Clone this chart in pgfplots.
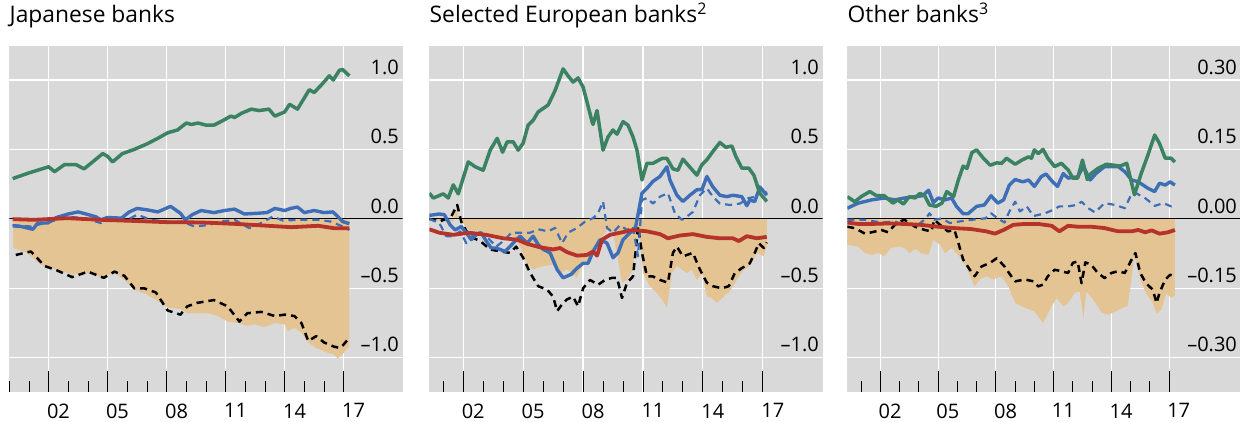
\documentclass[border=0pt]{standalone}
\usepackage{fontspec}
\setmainfont{Open Sans}
\usepackage{pgfplots}
\pgfplotsset{compat=1.18}

\definecolor{bggray}{HTML}{D9D9D9}
\definecolor{areatan}{HTML}{E5C494}
\definecolor{lgreen}{HTML}{3A8262}
\definecolor{lblue}{HTML}{3E6EB6}
\definecolor{lred}{HTML}{B5332B}

\newcommand\tickfont{\fontsize{10bp}{12bp}\selectfont}
\newcommand\titlefont{\fontsize{11.4bp}{13bp}\selectfont}

\pgfplotsset{
  panel/.style={
    scale only axis, width=196.7bp, height=172.85bp, anchor=south west,
    axis background/.style={fill=bggray},
    axis line style={draw=none},
    ymajorgrids, grid style={white, line width=0.6bp},
    yticklabel pos=right,
    yticklabel style={anchor=base east, inner sep=0pt, xshift=-1.7bp, yshift=2.85bp, font=\tickfont},
    xtick={2002.5,2005.5,2008.5,2011.5,2014.5,2017.5},
    xticklabels={02,05,08,11,14,17},
    xticklabel style={anchor=north, inner sep=0pt, yshift=-5.8bp, font=\tickfont},
    xtick pos=lower,
    tick align=inside,
    major tick length=0pt,
    minor xtick={2000,...,2017},
    minor tick length=5.5bp,
    xtick style={black, line width=0.45bp},
    extra x ticks={2002,2005,2008,2011,2014,2017},
    extra x tick labels={},
    extra x tick style={major tick length=10.35bp, grid=major},
    title style={anchor=base west, at={(0,1)}, yshift=5.9bp, inner sep=0pt, font=\titlefont},
    every axis plot/.append style={line join=round},
  },
  area/.style={fill=areatan, draw=none},
  gline/.style={lgreen, line width=1.75bp},
  bline/.style={lblue, line width=1.7bp},
  bdash/.style={lblue, line width=1.1bp, dash pattern=on 3.5bp off 2.5bp},
  rline/.style={lred, line width=1.9bp},
  kdash/.style={black, line width=1.25bp, dash pattern=on 3.5bp off 2.5bp},
  zline/.style={black, line width=0.6bp},
}

\begin{document}
\begin{tikzpicture}
\useasboundingbox (0,0) rectangle (620bp,211bp);

% Japanese banks
\begin{axis}[panel, at={(4.65bp,15.15bp)},
  title={Japanese banks},
  xmin=2000.0, xmax=2020.0, ymin=-1.245, ymax=1.245,
  ytick={-1,-0.5,0,0.5,1},
  yticklabels={\textendash1.0,\textendash0.5,0.0,0.5,1.0}]
\addplot[area] coordinates {(2000.2,0)(2000.2,-0.21)(2000.9,-0.245)(2001.6,-0.33)(2002.45,-0.37)(2003.2,-0.40)(2003.97,-0.39)(2004.65,-0.42)(2005.35,-0.39)(2005.85,-0.44)(2006.35,-0.51)(2007.0,-0.545)(2007.7,-0.605)(2008.05,-0.64)(2008.7,-0.65)(2009.05,-0.68)(2009.75,-0.68)(2010.1,-0.68)(2010.6,-0.70)(2011.1,-0.74)(2011.6,-0.75)(2012.1,-0.77)(2012.45,-0.76)(2012.95,-0.78)(2013.5,-0.75)(2014,-0.76)(2014.15,-0.81)(2014.5,-0.785)(2014.85,-0.82)(2015.2,-0.89)(2015.6,-0.93)(2016.1,-0.96)(2016.5,-0.975)(2016.7,-1.005)(2016.95,-0.975)(2017.29,-0.915)(2017.29,0)} -- cycle;
\addplot[zline] coordinates {(1999,0)(2022,0)};
\addplot[kdash] coordinates {(2000.33,-0.26)(2001.1,-0.235)(2001.8,-0.34)(2002.4,-0.37)(2003.2,-0.42)(2004,-0.38)(2004.8,-0.425)(2005.35,-0.38)(2005.85,-0.41)(2006.35,-0.50)(2006.85,-0.50)(2007.45,-0.53)(2008.05,-0.66)(2008.7,-0.69)(2009.05,-0.63)(2009.55,-0.605)(2010.4,-0.585)(2011.1,-0.63)(2011.7,-0.74)(2012.1,-0.68)(2012.8,-0.67)(2013.5,-0.70)(2014,-0.69)(2014.5,-0.70)(2014.85,-0.75)(2015.2,-0.88)(2015.6,-0.845)(2016,-0.89)(2016.5,-0.92)(2016.8,-0.93)(2017,-0.905)(2017.2,-0.87)};
\addplot[bdash] coordinates {(2000.17,-0.045)(2001.1,-0.055)(2002.1,-0.02)(2003,0.015)(2003.8,0.005)(2004.65,-0.03)(2005.2,-0.007)(2006,-0.007)(2006.5,0.03)(2007.2,-0.007)(2008,-0.02)(2008.8,-0.02)(2009.4,-0.055)(2010.1,-0.045)(2010.75,-0.02)(2011.45,-0.007)(2012.2,-0.067)(2012.8,-0.03)(2013.4,0.017)(2013.9,-0.012)(2014.8,-0.007)(2015.7,-0.007)(2016.35,-0.02)(2016.95,-0.055)(2017.29,-0.08)};
\addplot[bline] coordinates {(2000.17,-0.05)(2000.6,-0.055)(2001.2,-0.075)(2001.45,-0.03)(2001.95,-0.03)(2002.4,0.01)(2003,0.035)(2003.5,0.05)(2003.9,0.035)(2004.4,0.015)(2004.65,-0.007)(2005,0.01)(2005.7,0.005)(2006.1,0.05)(2006.5,0.075)(2007,0.065)(2007.55,0.05)(2008.2,0.09)(2008.7,0.04)(2008.95,-0.007)(2009.3,0.03)(2009.75,0.06)(2010.4,0.045)(2010.95,0.06)(2011.45,0.07)(2011.95,0.035)(2012.6,0.04)(2013.1,0.045)(2013.5,0.075)(2014,0.06)(2014.3,0.075)(2014.65,0.085)(2015,0.045)(2015.5,0.06)(2016,0.045)(2016.45,0.05)(2016.7,0.017)(2016.95,-0.02)(2017.29,-0.035)};
\addplot[rline] coordinates {(2000.17,-0.002)(2001.25,-0.007)(2002.95,0.005)(2004.65,-0.007)(2006.35,-0.015)(2008.05,-0.024)(2009.75,-0.026)(2011.45,-0.036)(2013.15,-0.05)(2014.35,-0.06)(2015.7,-0.05)(2016.5,-0.067)(2017.29,-0.067)};
\addplot[gline] coordinates {(2000.17,0.29)(2000.98,0.33)(2002,0.375)(2002.3,0.34)(2002.8,0.39)(2003.4,0.39)(2003.8,0.36)(2004.15,0.40)(2004.75,0.47)(2005,0.45)(2005.25,0.41)(2005.75,0.47)(2006.35,0.50)(2007,0.54)(2007.55,0.58)(2008.05,0.62)(2008.55,0.64)(2009,0.69)(2009.25,0.68)(2009.6,0.69)(2010,0.675)(2010.4,0.675)(2010.75,0.70)(2011.27,0.74)(2011.45,0.73)(2011.8,0.76)(2012.3,0.79)(2012.7,0.78)(2013.2,0.79)(2013.5,0.74)(2014,0.77)(2014.25,0.825)(2014.65,0.79)(2015.25,0.93)(2015.5,0.91)(2015.9,0.97)(2016.27,1.03)(2016.47,1.0)(2016.78,1.07)(2016.95,1.075)(2017.29,1.03)};
\end{axis}

% Selected European banks
\begin{axis}[panel, at={(214.65bp,15.15bp)},
  title={Selected European banks\textsuperscript{2}},
  xmin=2000.3, xmax=2020.0, ymin=-1.245, ymax=1.245,
  ytick={-1,-0.5,0,0.5,1},
  yticklabels={\textendash1.0,\textendash0.5,0.0,0.5,1.0}]
\addplot[area] coordinates {(2000.3,0)(2001,-0.02)(2001.5,-0.02)(2001.65,0.08)(2001.8,0)(2002.3,-0.08)(2003.15,-0.10)(2004,-0.125)(2004.5,-0.125)(2004.85,-0.2)(2005.2,-0.32)(2005.5,-0.365)(2006,-0.34)(2006.5,-0.33)(2006.85,-0.39)(2007.2,-0.365)(2007.5,-0.40)(2007.7,-0.425)(2007.85,-0.365)(2008.2,-0.295)(2008.5,-0.245)(2008.85,-0.15)(2009.2,-0.08)(2009.5,-0.10)(2009.75,-0.295)(2009.95,-0.46)(2010.2,-0.44)(2010.5,-0.365)(2010.7,-0.125)(2010.85,-0.15)(2011,-0.39)(2011.35,-0.485)(2011.7,-0.535)(2011.95,-0.58)(2012.2,-0.64)(2012.45,-0.39)(2012.7,-0.34)(2012.95,-0.365)(2013.2,-0.39)(2013.45,-0.365)(2013.7,-0.44)(2013.95,-0.39)(2014.2,-0.56)(2014.45,-0.57)(2014.7,-0.605)(2015.05,-0.56)(2015.35,-0.52)(2015.7,-0.44)(2016.05,-0.365)(2016.35,-0.34)(2016.7,-0.245)(2017.05,-0.27)(2017.2,-0.2)(2017.2,0)} -- cycle;
\addplot[zline] coordinates {(1999,0)(2022,0)};
\addplot[kdash] coordinates {(2000.3,0)(2000.8,-0.02)(2001.4,0.017)(2001.7,0.10)(2001.9,-0.02)(2002.3,-0.125)(2002.85,-0.16)(2003.35,-0.22)(2003.85,-0.235)(2004.35,-0.245)(2004.65,-0.2)(2005,-0.28)(2005.35,-0.39)(2005.75,-0.485)(2006.2,-0.51)(2006.5,-0.56)(2006.7,-0.665)(2006.95,-0.615)(2007.2,-0.58)(2007.5,-0.56)(2007.75,-0.63)(2008,-0.50)(2008.35,-0.44)(2008.75,-0.475)(2009.1,-0.44)(2009.45,-0.425)(2009.7,-0.425)(2009.95,-0.57)(2010.2,-0.46)(2010.5,-0.415)(2010.65,-0.21)(2010.75,-0.055)(2010.95,-0.245)(2011.2,-0.415)(2011.5,-0.415)(2011.85,-0.44)(2012.25,-0.46)(2012.5,-0.245)(2012.7,-0.2)(2013,-0.27)(2013.5,-0.245)(2013.85,-0.365)(2014.2,-0.46)(2014.5,-0.485)(2014.95,-0.50)(2015.3,-0.485)(2015.6,-0.39)(2015.95,-0.355)(2016.35,-0.32)(2016.6,-0.245)(2016.8,-0.175)(2017.05,-0.21)(2017.2,-0.17)};
\addplot[bdash] coordinates {(2000.3,0)(2000.8,-0.03)(2001.15,-0.125)(2001.5,-0.125)(2001.85,-0.09)(2002.15,-0.175)(2002.65,-0.09)(2003.15,-0.125)(2003.65,-0.2)(2004.1,-0.15)(2004.4,-0.10)(2004.85,-0.10)(2005.35,-0.10)(2005.75,-0.075)(2006.25,-0.09)(2006.6,-0.065)(2006.95,-0.175)(2007.25,-0.10)(2007.7,-0.065)(2008.1,-0.02)(2008.5,0.005)(2008.75,0.04)(2009,0.125)(2009.2,-0.065)(2009.5,-0.10)(2009.85,-0.045)(2010.2,-0.08)(2010.5,-0.055)(2010.75,-0.27)(2010.95,0.135)(2011.2,0.15)(2011.5,0.11)(2011.85,0.16)(2012.25,0.185)(2012.6,0.04)(2012.95,-0.007)(2013.2,0.017)(2013.5,0.05)(2013.85,0.17)(2014.2,0.22)(2014.5,0.16)(2014.85,0.11)(2015.35,0.10)(2015.85,0.11)(2016.3,0.15)(2016.7,0.16)(2016.95,0.22)(2017.2,0.185)};
\addplot[bline] coordinates {(2000.3,0.025)(2000.8,0.035)(2001.05,0.03)(2001.35,-0.045)(2001.6,-0.08)(2001.9,-0.055)(2002.15,-0.10)(2002.4,-0.15)(2002.65,-0.115)(2002.9,-0.10)(2003.15,-0.16)(2003.4,-0.21)(2003.65,-0.21)(2004.1,-0.235)(2004.5,-0.175)(2004.85,-0.125)(2005.2,-0.175)(2005.5,-0.125)(2005.75,-0.185)(2006,-0.22)(2006.35,-0.245)(2006.7,-0.365)(2007,-0.425)(2007.4,-0.40)(2007.7,-0.355)(2008,-0.32)(2008.25,-0.32)(2008.5,-0.235)(2008.85,-0.15)(2009.2,-0.175)(2009.5,-0.28)(2009.75,-0.245)(2010,-0.15)(2010.35,-0.10)(2010.6,-0.08)(2010.75,0.03)(2010.95,0.185)(2011.2,0.22)(2011.5,0.27)(2011.85,0.305)(2012.2,0.375)(2012.35,0.28)(2012.7,0.17)(2013,0.125)(2013.35,0.17)(2013.7,0.21)(2013.95,0.21)(2014.2,0.305)(2014.5,0.23)(2014.85,0.17)(2015.2,0.16)(2015.5,0.17)(2015.95,0.16)(2016.2,0.095)(2016.35,0.135)(2016.6,0.125)(2016.85,0.23)(2017.2,0.17)};
\addplot[rline] coordinates {(2000.3,-0.075)(2000.8,-0.10)(2001.5,-0.115)(2002.3,-0.10)(2003.15,-0.115)(2004,-0.14)(2004.7,-0.15)(2005.2,-0.18)(2005.85,-0.205)(2006.5,-0.22)(2006.85,-0.21)(2007.2,-0.24)(2007.7,-0.265)(2008.2,-0.26)(2008.5,-0.235)(2008.7,-0.265)(2008.95,-0.15)(2009.35,-0.115)(2009.85,-0.10)(2010.5,-0.08)(2011.2,-0.09)(2011.85,-0.11)(2012.25,-0.14)(2012.85,-0.12)(2013.5,-0.11)(2014.2,-0.13)(2014.85,-0.14)(2015.5,-0.14)(2015.8,-0.16)(2016.2,-0.125)(2016.7,-0.14)(2017.2,-0.13)};
\addplot[gline] coordinates {(2000.3,0.185)(2000.5,0.15)(2001,0.18)(2001.25,0.15)(2001.5,0.245)(2001.75,0.18)(2002.25,0.41)(2002.6,0.375)(2003,0.35)(2003.35,0.495)(2003.7,0.58)(2003.97,0.48)(2004.2,0.555)(2004.5,0.555)(2004.75,0.495)(2005,0.545)(2005.25,0.675)(2005.5,0.71)(2005.75,0.77)(2006.1,0.805)(2006.25,0.82)(2006.6,0.925)(2007,1.08)(2007.25,1.03)(2007.5,0.985)(2007.75,1.015)(2008,0.95)(2008.2,0.84)(2008.45,0.70)(2008.5,0.68)(2008.7,0.78)(2009,0.495)(2009.25,0.59)(2009.5,0.64)(2009.7,0.61)(2010,0.70)(2010.25,0.675)(2010.5,0.59)(2010.7,0.495)(2010.95,0.28)(2011.2,0.40)(2011.5,0.40)(2011.95,0.435)(2012.2,0.435)(2012.5,0.36)(2012.75,0.35)(2013,0.43)(2013.3,0.38)(2013.7,0.315)(2013.95,0.39)(2014.2,0.425)(2014.5,0.485)(2014.85,0.55)(2015.15,0.515)(2015.45,0.525)(2015.65,0.45)(2015.95,0.365)(2016.3,0.365)(2016.55,0.315)(2016.85,0.185)(2017.2,0.125)};
\end{axis}

% Other banks
\begin{axis}[panel, at={(423.65bp,15.15bp)},
  title={Other banks\textsuperscript{3}},
  xmin=2000.28, xmax=2020.72, ymin=-0.3735, ymax=0.3735,
  ytick={-0.3,-0.15,0,0.15,0.3},
  yticklabels={\textendash0.30,\textendash0.15,0.00,0.15,0.30}]
\addplot[area] coordinates {(2000.28,0)(2000.28,-0.056)(2000.85,-0.06)(2001.2,-0.074)(2001.55,-0.078)(2001.9,-0.074)(2002.2,-0.081)(2002.55,-0.063)(2003,-0.06)(2003.25,-0.063)(2003.5,-0.074)(2003.85,-0.065)(2004.1,-0.074)(2004.5,-0.078)(2004.75,-0.045)(2005.1,-0.056)(2005.35,-0.074)(2005.7,-0.063)(2006.1,-0.081)(2006.45,-0.103)(2006.9,-0.146)(2007.15,-0.131)(2007.5,-0.124)(2007.85,-0.131)(2008.3,-0.124)(2008.65,-0.146)(2009,-0.182)(2009.5,-0.192)(2010,-0.2)(2010.45,-0.225)(2010.9,-0.189)(2011.15,-0.171)(2011.5,-0.189)(2011.75,-0.182)(2012.1,-0.16)(2012.35,-0.157)(2012.55,-0.214)(2012.7,-0.157)(2013.05,-0.174)(2013.5,-0.203)(2013.85,-0.207)(2014.2,-0.2)(2014.6,-0.192)(2014.85,-0.189)(2015.2,-0.081)(2015.5,-0.131)(2015.8,-0.16)(2016.15,-0.182)(2016.35,-0.205)(2016.6,-0.196)(2016.85,-0.16)(2017.1,-0.171)(2017.3,-0.166)(2017.3,0)} -- cycle;
\addplot[zline] coordinates {(1999,0)(2022,0)};
\addplot[kdash] coordinates {(2000.28,-0.017)(2000.67,-0.02)(2001.2,-0.032)(2001.55,-0.029)(2002.05,-0.024)(2002.4,-0.029)(2002.75,-0.013)(2003,-0.006)(2003.25,-0.002)(2003.8,-0.017)(2004.3,-0.024)(2004.65,-0.027)(2004.8,-0.002)(2005.1,-0.013)(2005.5,-0.027)(2005.85,-0.024)(2006.05,-0.052)(2006.3,-0.088)(2006.65,-0.11)(2006.9,-0.124)(2007.25,-0.103)(2007.7,-0.095)(2008.05,-0.085)(2008.45,-0.103)(2008.8,-0.124)(2009,-0.135)(2009.5,-0.131)(2009.95,-0.135)(2010.2,-0.146)(2010.45,-0.142)(2010.7,-0.124)(2011.05,-0.11)(2011.4,-0.113)(2011.75,-0.117)(2012,-0.095)(2012.25,-0.092)(2012.45,-0.139)(2012.65,-0.094)(2012.95,-0.099)(2013.3,-0.117)(2013.65,-0.128)(2014,-0.117)(2014.35,-0.113)(2014.7,-0.117)(2015.05,-0.088)(2015.25,-0.074)(2015.5,-0.117)(2015.8,-0.139)(2016.15,-0.153)(2016.35,-0.182)(2016.5,-0.16)(2016.8,-0.131)(2017.05,-0.121)(2017.3,-0.124)};
\addplot[bdash] coordinates {(2000.28,-0.002)(2001.2,-0.002)(2002.05,-0.008)(2002.75,-0.006)(2003.25,-0.013)(2003.95,-0.013)(2004.35,0)(2004.55,0.012)(2004.8,-0.002)(2005.2,0.001)(2005.6,-0.009)(2006.05,-0.006)(2006.75,-0.002)(2007.45,0.001)(2007.75,0.012)(2008.1,0.001)(2008.45,-0.008)(2008.7,0.016)(2009,0.037)(2009.25,0.016)(2009.6,0.027)(2009.95,0.006)(2010.55,0.012)(2010.95,0.019)(2011.3,0.027)(2011.75,0.027)(2012.2,0.03)(2012.45,0.037)(2012.8,0.023)(2013.15,0.014)(2013.65,0.034)(2014.2,0.03)(2014.7,0.023)(2015.05,0.054)(2015.3,0.055)(2015.75,0.045)(2016.25,0.028)(2016.7,0.034)(2017.1,0.027)(2017.3,0.03)};
\addplot[bline] coordinates {(2000.28,0.023)(2000.85,0.034)(2001.55,0.041)(2002.2,0.045)(2002.75,0.041)(2003.25,0.045)(2003.8,0.048)(2004.2,0.05)(2004.5,0.062)(2004.75,0.035)(2005,0.045)(2005.35,0.041)(2005.7,0.045)(2005.95,0.027)(2006.3,0.011)(2006.55,0.011)(2007,0.027)(2007.4,0.03)(2007.75,0.05)(2008.1,0.034)(2008.4,0.041)(2008.7,0.073)(2009,0.085)(2009.4,0.08)(2009.7,0.084)(2010,0.07)(2010.35,0.091)(2010.6,0.097)(2010.95,0.08)(2011.2,0.07)(2011.5,0.098)(2011.75,0.088)(2012.25,0.091)(2012.55,0.113)(2012.9,0.084)(2013.2,0.098)(2013.65,0.113)(2014.35,0.113)(2014.7,0.102)(2015.05,0.084)(2015.4,0.08)(2015.9,0.066)(2016.25,0.059)(2016.5,0.077)(2016.8,0.073)(2017.05,0.08)(2017.3,0.073)};
\addplot[rline] coordinates {(2000.28,-0.008)(2000.85,-0.011)(2001.55,-0.011)(2002.4,-0.01)(2003.25,-0.011)(2004.1,-0.013)(2005,-0.017)(2005.85,-0.02)(2006.7,-0.022)(2007.5,-0.027)(2007.95,-0.032)(2008.4,-0.024)(2008.9,-0.013)(2009.5,-0.011)(2010.2,-0.011)(2010.9,-0.015)(2011.3,-0.027)(2011.75,-0.015)(2012.25,-0.017)(2012.95,-0.017)(2013.65,-0.02)(2014.35,-0.027)(2015.05,-0.027)(2015.4,-0.024)(2015.75,-0.029)(2016.1,-0.025)(2016.5,-0.032)(2016.95,-0.029)(2017.3,-0.024)};
\addplot[gline] coordinates {(2000.28,0.048)(2000.67,0.037)(2001,0.048)(2001.45,0.059)(2001.8,0.05)(2002.2,0.05)(2002.65,0.034)(2002.9,0.041)(2003.2,0.032)(2003.5,0.048)(2003.8,0.045)(2004.05,0.055)(2004.3,0.05)(2004.55,0.03)(2004.9,0.027)(2005.2,0.034)(2005.45,0.059)(2005.8,0.048)(2006.05,0.084)(2006.3,0.114)(2006.5,0.109)(2006.75,0.143)(2007,0.149)(2007.35,0.131)(2007.7,0.116)(2008.05,0.121)(2008.3,0.12)(2008.55,0.131)(2009,0.118)(2009.35,0.127)(2009.7,0.134)(2009.85,0.131)(2010,0.149)(2010.2,0.141)(2010.45,0.15)(2010.7,0.131)(2011.05,0.113)(2011.4,0.12)(2011.75,0.106)(2012,0.088)(2012.25,0.088)(2012.5,0.127)(2012.75,0.085)(2012.95,0.098)(2013.3,0.109)(2013.75,0.118)(2014.1,0.116)(2014.45,0.114)(2014.8,0.12)(2015.2,0.052)(2015.55,0.098)(2015.9,0.138)(2016.25,0.181)(2016.5,0.163)(2016.8,0.131)(2017.1,0.131)(2017.3,0.123)};
\end{axis}
\end{tikzpicture}
\end{document}
